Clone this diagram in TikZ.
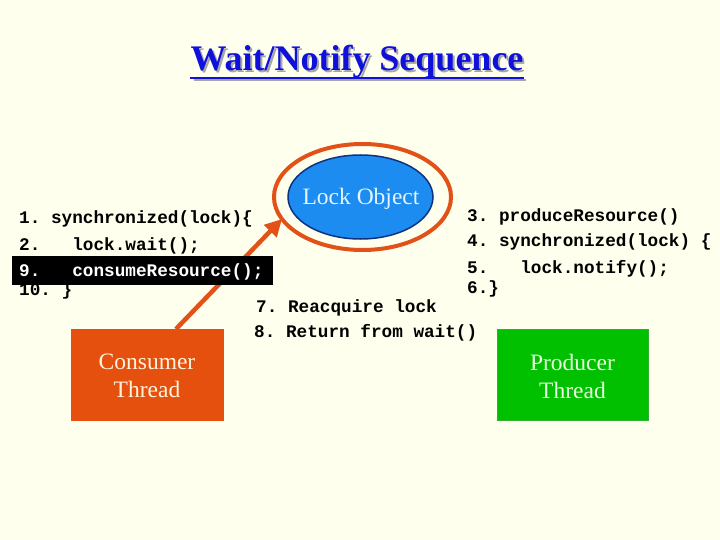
\documentclass[tikz,border=0pt]{standalone}
\usepackage{fontspec}
\setmainfont{Liberation Serif}
\setmonofont{Liberation Mono}
\usetikzlibrary{arrows.meta,shapes.geometric}
\definecolor{bg}{RGB}{255,255,238}
\definecolor{titleblue}{RGB}{16,16,220}
\definecolor{shadowgray}{RGB}{165,165,165}
\definecolor{ringorange}{RGB}{226,82,24}
\definecolor{consorange}{RGB}{230,80,14}
\definecolor{lockblue}{RGB}{28,140,240}
\definecolor{lockedge}{RGB}{12,50,130}
\definecolor{prodgreen}{RGB}{0,192,0}
\definecolor{prodedge}{RGB}{48,176,48}
\definecolor{locktext}{RGB}{228,244,255}
\definecolor{constext}{RGB}{255,244,220}
\definecolor{prodtext}{RGB}{232,255,224}
\tikzset{
  codeline/.style={anchor=base west, inner sep=0pt, font=\ttfamily\bfseries\fontsize{17.7}{20}\selectfont, text=black},
  boxlabel/.style={font=\fontsize{23.5}{28}\selectfont, align=center},
  threadbox/.style={draw, line width=1pt, inner sep=0pt},
  titlefont/.style={anchor=base, inner sep=0pt, font=\bfseries\fontsize{36}{40}\selectfont},
}
\begin{document}
\begin{tikzpicture}[x=1pt,y=-1pt]
\fill[bg] (0,0) rectangle (720,540);
\useasboundingbox (0,0) rectangle (720,540);

% title with shadow and underline
\node[titlefont, text=shadowgray] (titleshadow) at (359,73) {Wait/Notify Sequence};
\draw[shadowgray, line width=2.5pt] ([xshift=2pt,yshift=-7pt]titleshadow.base west) -- ([yshift=-7pt]titleshadow.base east);
\node[titlefont, text=titleblue] (title) at (357,71) {Wait/Notify Sequence};
\draw[titleblue, line width=2.5pt] ([yshift=-7pt]title.base west) -- ([yshift=-7pt]title.base east);

% lock object
\node[ellipse, draw=lockedge, line width=1.5pt, fill=lockblue, minimum width=145pt, minimum height=84pt, inner sep=0pt] (lock) at (360.5,197) {};
\node[text=locktext, font=\fontsize{23.5}{28}\selectfont, inner sep=0pt] (locklabel) at (361,199) {Lock Object};
\node[ellipse, draw=ringorange, line width=4pt, minimum width=177pt, minimum height=106pt, inner sep=0pt] (ring) at (362.5,197) {};

% thread boxes
\node[threadbox, draw=consorange, fill=consorange, minimum width=152pt, minimum height=91pt] (consumer) at (147,374.5) {};
\node[boxlabel, text=constext] (conslabel) at (147,376) {Consumer\\Thread};
\node[threadbox, draw=prodedge, fill=prodgreen, minimum width=151pt, minimum height=91pt] (producer) at (572.5,374.5) {};
\node[boxlabel, text=prodtext] (prodlabel) at (572.5,376) {Producer\\Thread};

% arrow from consumer to lock ring
\coordinate (arrowstart) at (176,329);
\coordinate (arrowtip) at (282,219);
\draw[ringorange, line width=4.5pt, -{Triangle[length=17pt,width=17pt]}] (arrowstart) -- (arrowtip);

% consumer code
\node[codeline] (c1) at (19,223) {1.\ synchronized(lock)\{};
\node[codeline] (c2) at (19,250) {2.\ \ \ lock.wait();};
\node[codeline] (c10) at (19,295) {10.\ \}};
\fill[black] (12,256) rectangle (273,285);
\node[codeline, text=white] (c9) at (19,276) {9.\ \ \ consumeResource();};

% producer code
\node[codeline] (p3) at (467,222) {3.\ produceResource()};
\node[codeline] (p4) at (467,247) {4.\ synchronized(lock)\ \{};
\node[codeline] (p5) at (467,273) {5.\ \ \ lock.notify();};
\node[codeline] (p6) at (467,293) {6.\}};

% reacquire
\node[codeline] (r7) at (256,312) {7.\ Reacquire\ lock};
\node[codeline] (r8) at (254,337) {8.\ Return\ from\ wait()};
\end{tikzpicture}
\end{document}
